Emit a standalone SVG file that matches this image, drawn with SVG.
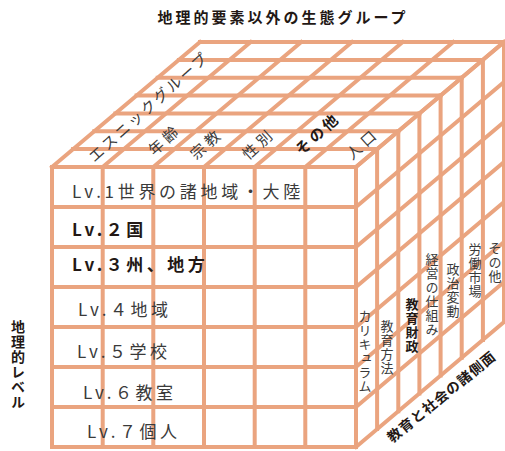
<svg xmlns="http://www.w3.org/2000/svg" width="505" height="451" viewBox="0 0 505 451">
<style>
.g{stroke:#EAA47F;stroke-width:4;fill:none;stroke-linecap:square}
.t{font-family:"Noto Sans CJK JP","Liberation Sans",sans-serif;fill:#3a3a3a;font-size:15px}
.b{font-weight:bold;fill:#231815}
.lv{font-size:17px;letter-spacing:3.5px}
.v{writing-mode:vertical-rl;font-size:13px;letter-spacing:1px}
</style>
<rect width="505" height="451" fill="#fff"/>
<g id="grid" class="g">
<!-- top face: lines parallel to front edge -->
<path d="M52,167H356M73.1,149.1H377.1M94.3,131.3H398.3M115.4,113.4H419.4M136.6,95.6H440.6M157.7,77.7H461.7M178.9,59.9H482.9M200,42H504"/>
<!-- top face: depth lines -->
<path d="M52,167L200,42M102.7,167L250.7,42M153.3,167L301.3,42M204,167L352,42M254.7,167L402.7,42M305.3,167L453.3,42M356,167L504,42"/>
<!-- front face -->
<path d="M52,167V447M102.7,167V447M153.3,167V447M204,167V447M254.7,167V447M305.3,167V447M356,167V447"/>
<path d="M52,167H356M52,207H356M52,247H356M52,287H356M52,327H356M52,367H356M52,407H356M52,447H356"/>
<!-- right face verticals -->
<path d="M356,167V447M377.1,149.1V429.1M398.3,131.3V411.3M419.4,113.4V393.4M440.6,95.6V375.6M461.7,77.7V357.7M482.9,59.9V339.9M504,42V322"/>
<!-- right face diagonals -->
<path d="M356,167L504,42M356,207L504,82M356,247L504,122M356,287L504,162M356,327L504,202M356,367L504,242M356,407L504,282M356,447L504,322"/>
</g>
<g id="title">
<text class="t b" x="283" y="23" text-anchor="middle" style="letter-spacing:3px">地理的要素以外の生態グループ</text>
</g>
<g id="top-labels" class="t">
<text transform="translate(148,106) rotate(-42)" text-anchor="middle" dominant-baseline="central" style="letter-spacing:2.5px">エスニックグループ</text>
<text transform="translate(164,139) rotate(-42)" text-anchor="middle" dominant-baseline="central" style="letter-spacing:4px">年齢</text>
<text transform="translate(206,143) rotate(-42)" text-anchor="middle" dominant-baseline="central" style="letter-spacing:4px">宗教</text>
<text transform="translate(258,143) rotate(-42)" text-anchor="middle" dominant-baseline="central" style="letter-spacing:4px">性別</text>
<text class="b" transform="translate(317,133) rotate(-42)" text-anchor="middle" dominant-baseline="central" style="letter-spacing:3px">その他</text>
<text transform="translate(362,143) rotate(-42)" text-anchor="middle" dominant-baseline="central" style="letter-spacing:4px">人口</text>
</g>
<g id="front-labels" class="t lv">
<text x="72" y="198" style="letter-spacing:3.7px">Lv.1世界の諸地域・大陸</text>
<text class="b" x="72" y="236">Lv.２国</text>
<text class="b" x="72" y="271">Lv.３州、地方</text>
<text x="78" y="316">Lv.４地域</text>
<text x="77" y="358">Lv.５学校</text>
<text x="83" y="399">Lv.６教室</text>
<text x="87" y="438">Lv.７個人</text>
</g>
<g id="right-labels" class="t">
<text class="v" x="365" y="310">カリキュラム</text>
<text class="v" x="387" y="320">教育方法</text>
<text class="v b" x="412" y="298">教育財政</text>
<text class="v" x="432" y="253">経営の仕組み</text>
<text class="v" x="453" y="263">政治変動</text>
<text class="v" x="475" y="243">労働市場</text>
<text class="v" x="495" y="242">その他</text>
</g>
<g id="axis-labels" class="t b">
<text x="18" y="320" style="writing-mode:vertical-rl;font-size:14px;letter-spacing:1px">地理的レベル</text>
<text transform="translate(441,396) rotate(-39)" text-anchor="middle" dominant-baseline="central" style="font-size:14px;letter-spacing:1px">教育と社会の諸側面</text>
</g>
</svg>
